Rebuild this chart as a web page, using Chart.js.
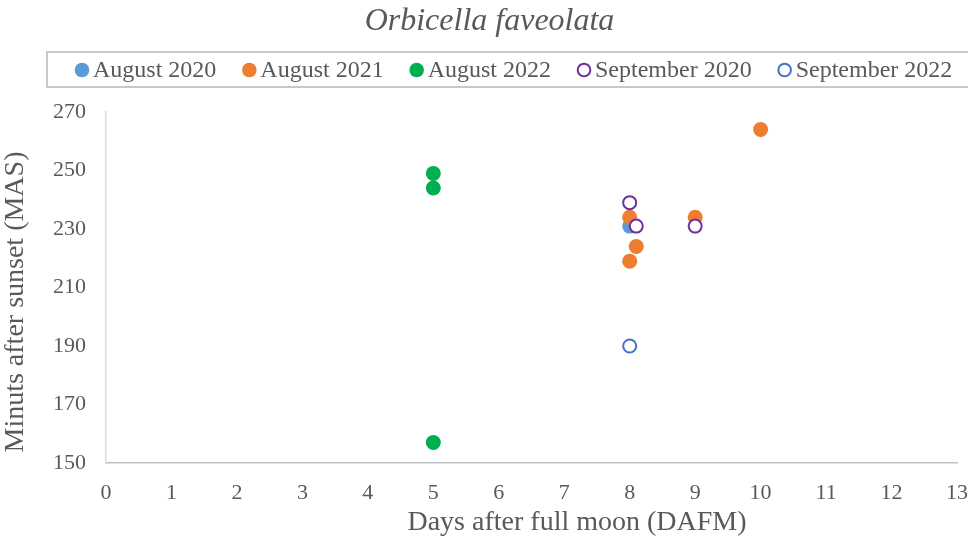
<!DOCTYPE html>
<html><head><meta charset="utf-8">
<script src="https://cdn.jsdelivr.net/npm/chart.js@4"></script>
<style>html,body{margin:0;padding:0;background:#fff}#c{display:block}</style>
</head><body>
<canvas id="c" width="968" height="538"></canvas>
<script>
const seriesNames = ["August 2020","August 2021","August 2022","September 2020","September 2022"];
const aug2020X = [8];
const aug2020Y = [231];
const aug2021X = [8, 8.1, 8, 9, 10];
const aug2021Y = [234, 224, 219, 234, 264];
const aug2022X = [5, 5, 5];
const aug2022Y = [249, 244, 157];
const sep2020X = [8, 8.1, 9];
const sep2020Y = [239, 231, 231];
const sep2022X = [8];
const sep2022Y = [190];
const xTicks = [0,1,2,3,4,5,6,7,8,9,10,11,12,13];
const yTicks = [150,170,190,210,230,250,270];
const chartTitle = "Orbicella faveolata";
const xTitle = "Days after full moon (DAFM)";
const yTitle = "Minuts after sunset (MAS)";

const pts = (xs, ys) => xs.map((x, i) => ({x, y: ys[i]}));
const FONT = "'Liberation Serif', 'Times New Roman', serif";
const GREY = "#595959";

const customDecor = {
  id: 'customDecor',
  afterDraw(chart) {
    const ctx = chart.ctx;
    ctx.save();
    // chart title
    ctx.fillStyle = GREY;
    ctx.textAlign = 'center';
    ctx.textBaseline = 'middle';
    ctx.font = "italic 32px " + FONT;
    ctx.fillText(chartTitle, 489.5, 21.5);
    // legend frame
    ctx.strokeStyle = "#C8C8C8";
    ctx.lineWidth = 2;
    ctx.strokeRect(47, 52, 968 - 47 + 5, 35);
    // legend items
    ctx.font = "24px " + FONT;
    ctx.textAlign = 'left';
    const cy = 70;
    let x = 74.5;
    chart.data.datasets.forEach(ds => {
      const cx = x + 7.5;
      ctx.beginPath();
      if (ds.borderWidth > 0) {
        ctx.arc(cx, cy, 6.3, 0, Math.PI * 2);
        ctx.fillStyle = ds.backgroundColor;
        ctx.fill();
        ctx.lineWidth = 2;
        ctx.strokeStyle = ds.borderColor;
        ctx.stroke();
      } else {
        ctx.arc(cx, cy, 7.3, 0, Math.PI * 2);
        ctx.fillStyle = ds.backgroundColor;
        ctx.fill();
      }
      ctx.fillStyle = GREY;
      const tx = cx + 11;
      ctx.fillText(ds.label, tx, cy + 1);
      x = tx + ctx.measureText(ds.label).width + 25.5;
    });
    // x-axis title
    ctx.textAlign = 'center';
    ctx.font = "28px " + FONT;
    ctx.fillStyle = GREY;
    ctx.fillText(xTitle, 577, 523);
    // y-axis title
    ctx.translate(16, 302);
    ctx.rotate(-Math.PI / 2);
    ctx.fillText(yTitle, 0, 0);
    ctx.restore();
  }
};

new Chart(document.getElementById('c'), {
  type: 'scatter',
  data: {
    datasets: [
      {label: seriesNames[0], data: pts(aug2020X, aug2020Y), backgroundColor: "#5B9BD5", borderColor: "#5B9BD5", borderWidth: 0, pointRadius: 7.5, order: 4},
      {label: seriesNames[1], data: pts(aug2021X, aug2021Y), backgroundColor: "#ED7D31", borderColor: "#ED7D31", borderWidth: 0, pointRadius: 7.5, order: 3},
      {label: seriesNames[2], data: pts(aug2022X, aug2022Y), backgroundColor: "#00B050", borderColor: "#00B050", borderWidth: 0, pointRadius: 7.5, order: 2},
      {label: seriesNames[3], data: pts(sep2020X, sep2020Y), backgroundColor: "#FFFFFF", borderColor: "#7030A0", borderWidth: 2, pointRadius: 6.5, order: 1},
      {label: seriesNames[4], data: pts(sep2022X, sep2022Y), backgroundColor: "#FFFFFF", borderColor: "#4472C4", borderWidth: 2, pointRadius: 6.5, order: 0}
    ]
  },
  options: {
    responsive: false,
    animation: false,
    devicePixelRatio: 1,
    layout: {padding: {left: 0, right: 11, top: 112, bottom: 0}},
    plugins: {
      tooltip: {enabled: false},
      legend: {display: false},
      title: {display: false}
    },
    scales: {
      x: {
        type: 'linear',
        min: 0, max: 13,
        afterBuildTicks: s => { s.ticks = xTicks.map(v => ({value: v})); },
        afterFit: s => { s.height = 75; s.paddingLeft = 0; s.paddingRight = 0; },
        grid: {display: false, drawTicks: false},
        border: {display: true, color: "#BFBFBF", width: 1.5},
        ticks: {color: GREY, font: {family: FONT, size: 22}, padding: 17, maxRotation: 0},
        title: {display: false}
      },
      y: {
        type: 'linear',
        min: 150, max: 270,
        afterBuildTicks: s => { s.ticks = yTicks.map(v => ({value: v})); },
        afterFit: s => { s.width = 106; s.paddingTop = 0; s.paddingBottom = 0; },
        grid: {display: false, drawTicks: false},
        border: {display: true, color: "#D9D9D9", width: 1.5},
        ticks: {color: GREY, font: {family: FONT, size: 22}, padding: 20},
        title: {display: false}
      }
    }
  },
  plugins: [customDecor]
});
</script>
</body></html>
